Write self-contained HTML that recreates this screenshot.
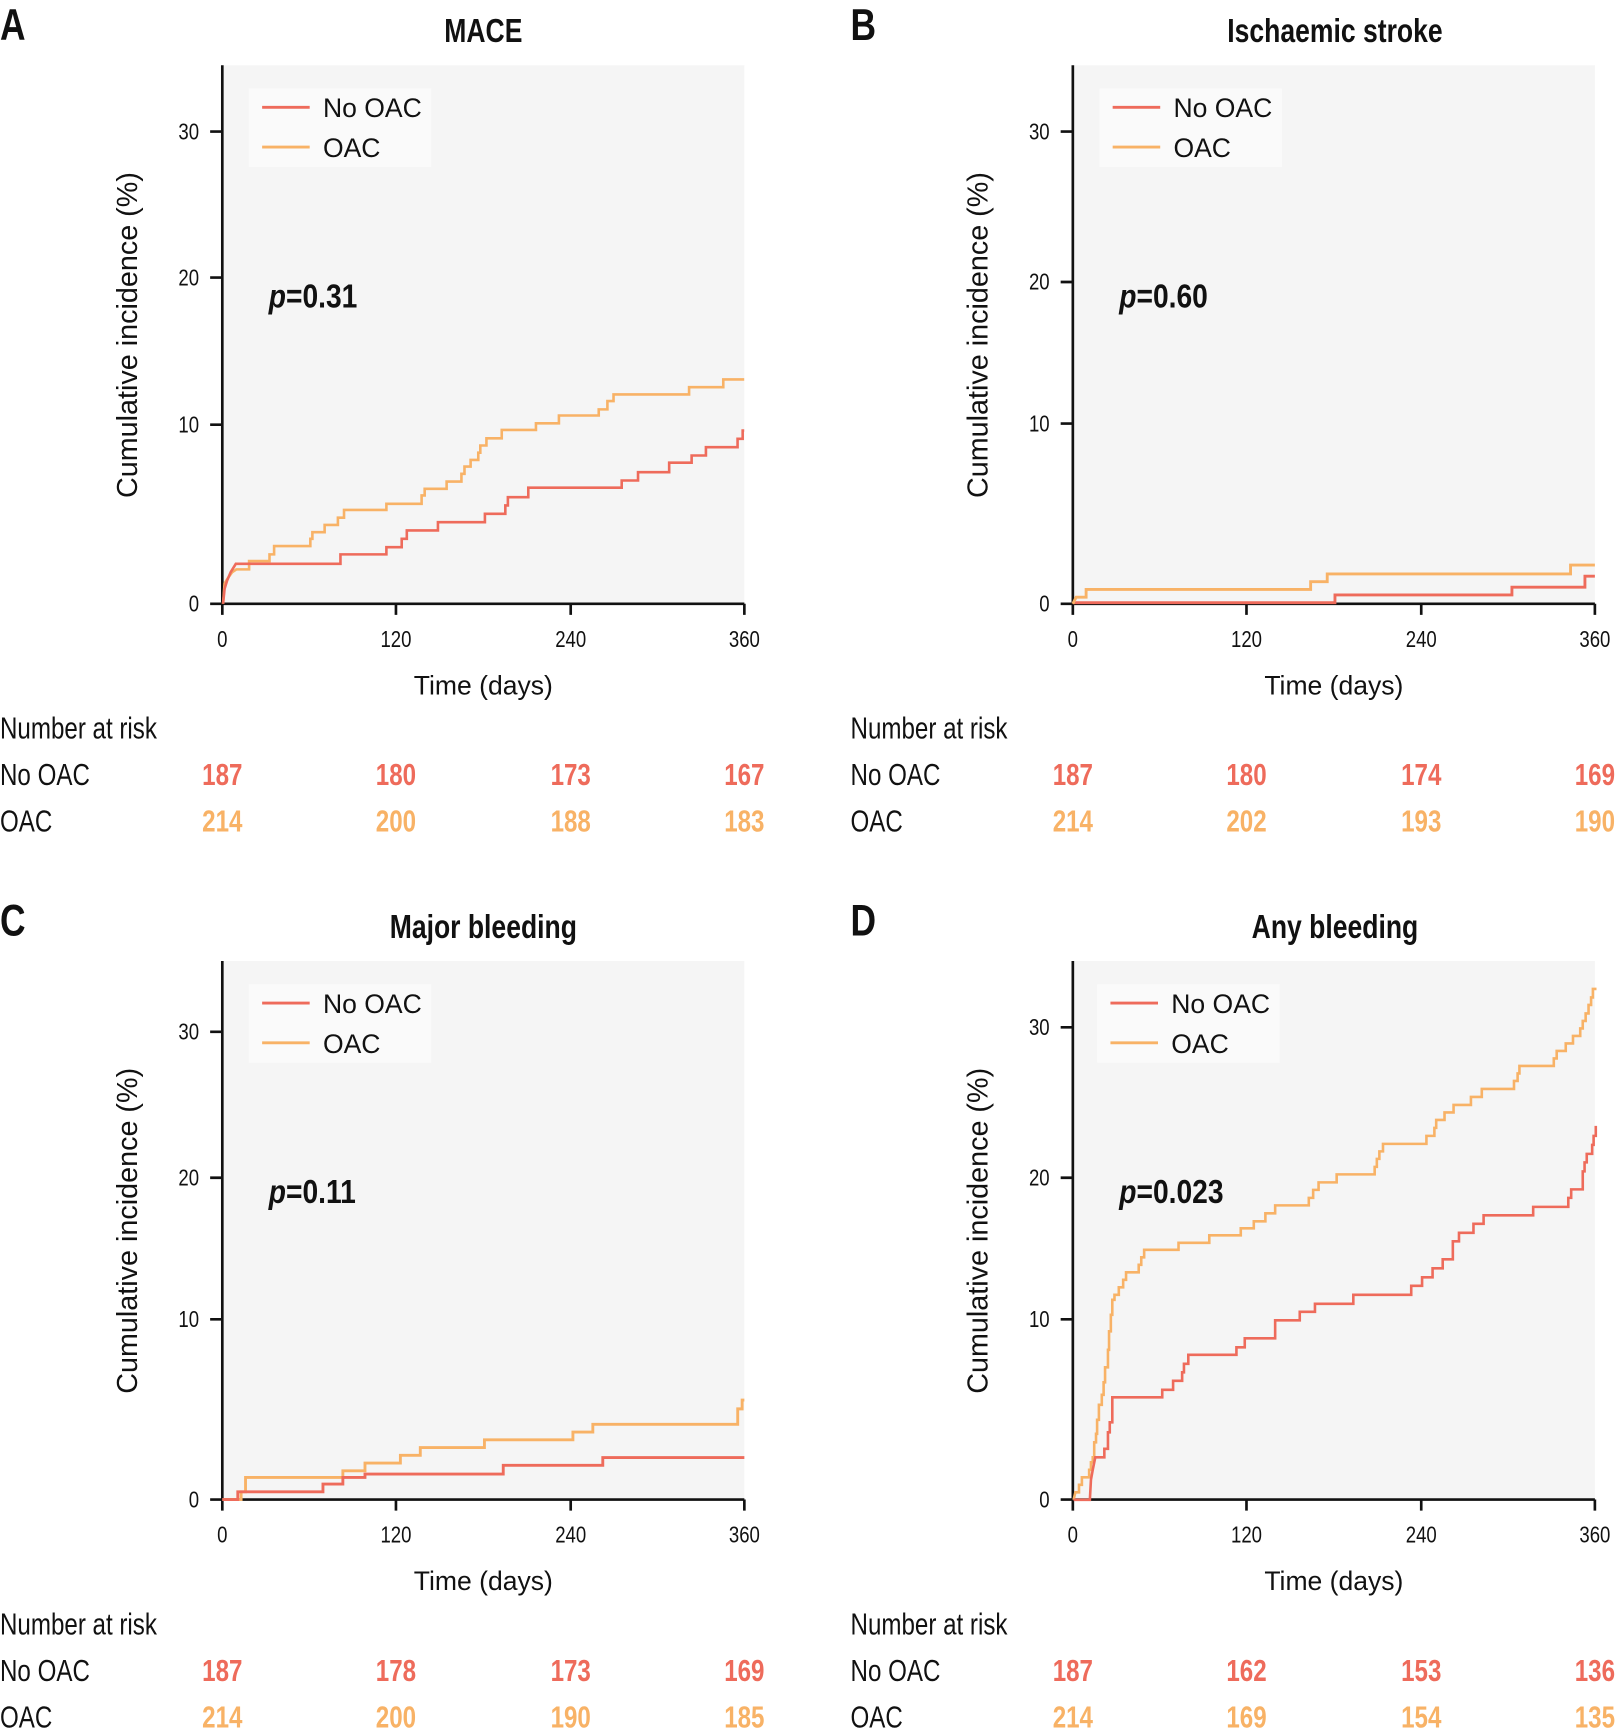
<!DOCTYPE html>
<html><head><meta charset="utf-8"><style>
html,body{margin:0;padding:0;background:#fff}
svg{display:block}
text{font-family:"Liberation Sans",sans-serif;fill:#111}
.b{font-weight:bold}
.r{fill:#ee6b5b}.o{fill:#f8b266}
.cr{fill:none;stroke:#ee6b5b;stroke-width:2.6}
.co{fill:none;stroke:#f8b266;stroke-width:2.6}
.ax{stroke:#111;stroke-width:2.4;fill:none}
</style></head><body>
<svg width="1617" height="1734" viewBox="0 0 1462 1568" preserveAspectRatio="none" xmlns="http://www.w3.org/2000/svg">

<!-- ===== Panel A ===== -->
<g>
<text class="b" font-size="40" transform="translate(0,36) scale(.8,1)">A</text>
<text class="b" font-size="30" text-anchor="middle" transform="translate(437,38) scale(.8,1)">MACE</text>
<rect x="201" y="59" width="472" height="487" fill="#f5f5f5"/>
<rect x="225" y="80" width="165" height="71" fill="#fafafa"/>
<line x1="237" y1="97" x2="280" y2="97" class="cr"/><line x1="237" y1="133" x2="280" y2="133" class="co"/>
<text x="292" y="106" font-size="24">No OAC</text><text x="292" y="142" font-size="24">OAC</text>
<text font-size="30" class="b" transform="translate(243,278) scale(.85,1)"><tspan font-style="italic">p</tspan>=0.31</text>
<path class="ax" d="M201,59V546H673M190,546H201M190,384H201M190,251H201M190,119H201M201,546V556M358,546V556M516,546V556M673,546V556"/>
<g font-size="21" text-anchor="end"><text transform="translate(180,553) scale(.8,1)">0</text><text transform="translate(180,391) scale(.8,1)">10</text><text transform="translate(180,258) scale(.8,1)">20</text><text transform="translate(180,126) scale(.8,1)">30</text></g>
<g font-size="21" text-anchor="middle"><text transform="translate(201,585) scale(.8,1)">0</text><text transform="translate(358,585) scale(.8,1)">120</text><text transform="translate(516,585) scale(.8,1)">240</text><text transform="translate(673,585) scale(.8,1)">360</text></g>
<text x="437" y="628" font-size="24" text-anchor="middle">Time (days)</text>
<text font-size="26" text-anchor="middle" transform="translate(124,303) rotate(-90)">Cumulative incidence (%)</text>
<text font-size="28" transform="translate(0,668) scale(.78,1)">Number at risk</text>
<text font-size="28" transform="translate(0,710) scale(.78,1)">No OAC</text>
<text font-size="28" transform="translate(0,752) scale(.78,1)">OAC</text>
<g font-size="28" class="b" text-anchor="middle">
<text class="r" transform="translate(201,710) scale(.78,1)">187</text><text class="r" transform="translate(358,710) scale(.78,1)">180</text><text class="r" transform="translate(516,710) scale(.78,1)">173</text><text class="r" transform="translate(673,710) scale(.78,1)">167</text>
<text class="o" transform="translate(201,752) scale(.78,1)">214</text><text class="o" transform="translate(358,752) scale(.78,1)">200</text><text class="o" transform="translate(516,752) scale(.78,1)">188</text><text class="o" transform="translate(673,752) scale(.78,1)">183</text>
</g>
<g transform="scale(0.4615,0.5023)">
<path class="co" vector-effect="non-scaling-stroke" d="M437,1087L440,1050L447,1040L455,1030L463,1025H488V1010H528V998H537V983H608V970H612V958H636V945H662V932H674V918H757V907H826V892H832V880H875V867H904V853H910V840H922V828H937V815H941V802H953V789H983V774H1050V762H1095V748H1173V737H1190V722H1202V710H1350V697H1417V683H1458"/>
<path class="cr" vector-effect="non-scaling-stroke" d="M437,1087L440,1060L445,1045L452,1030L462,1015H667V998H757V985H787V970H797V955H858V940H950V925H990V910H995V895H1035V878H1218V865H1250V850H1311V833H1355V820H1383V805H1445V790H1455V775H1458"/>
</g>
</g>

<!-- ===== Panel B ===== -->
<g>
<g transform="translate(769,0)">
<text class="b" font-size="40" transform="translate(0,36) scale(.8,1)">B</text>
<text class="b" font-size="30" text-anchor="middle" transform="translate(438,38) scale(.8,1)">Ischaemic stroke</text>
<rect x="201" y="59" width="472" height="487" fill="#f5f5f5"/>
<rect x="225" y="80" width="165" height="71" fill="#fafafa"/>
<line x1="237" y1="97" x2="280" y2="97" class="cr"/><line x1="237" y1="133" x2="280" y2="133" class="co"/>
<text x="292" y="106" font-size="24">No OAC</text><text x="292" y="142" font-size="24">OAC</text>
<text font-size="30" class="b" transform="translate(243,278) scale(.85,1)"><tspan font-style="italic">p</tspan>=0.60</text>
<path class="ax" d="M201,59V546H673M190,546H201M190,383H201M190,255H201M190,119H201M201,546V556M358,546V556M516,546V556M673,546V556"/>
<g font-size="21" text-anchor="end"><text transform="translate(180,553) scale(.8,1)">0</text><text transform="translate(180,390) scale(.8,1)">10</text><text transform="translate(180,262) scale(.8,1)">20</text><text transform="translate(180,126) scale(.8,1)">30</text></g>
<g font-size="21" text-anchor="middle"><text transform="translate(201,585) scale(.8,1)">0</text><text transform="translate(358,585) scale(.8,1)">120</text><text transform="translate(516,585) scale(.8,1)">240</text><text transform="translate(673,585) scale(.8,1)">360</text></g>
<text x="437" y="628" font-size="24" text-anchor="middle">Time (days)</text>
<text font-size="26" text-anchor="middle" transform="translate(124,303) rotate(-90)">Cumulative incidence (%)</text>
<text font-size="28" transform="translate(0,668) scale(.78,1)">Number at risk</text>
<text font-size="28" transform="translate(0,710) scale(.78,1)">No OAC</text>
<text font-size="28" transform="translate(0,752) scale(.78,1)">OAC</text>
<g font-size="28" class="b" text-anchor="middle">
<text class="r" transform="translate(201,710) scale(.78,1)">187</text><text class="r" transform="translate(358,710) scale(.78,1)">180</text><text class="r" transform="translate(516,710) scale(.78,1)">174</text><text class="r" transform="translate(673,710) scale(.78,1)">169</text>
<text class="o" transform="translate(201,752) scale(.78,1)">214</text><text class="o" transform="translate(358,752) scale(.78,1)">202</text><text class="o" transform="translate(516,752) scale(.78,1)">193</text><text class="o" transform="translate(673,752) scale(.78,1)">190</text>
</g>
</g>
<path class="cr" d="M970,545H1207V538H1367V531H1433V521H1442"/>
<path class="co" d="M970,546L973,540H982V533H1185V526H1200V519H1420V511H1442"/>
</g>

<!-- ===== Panel C ===== -->
<g>
<g transform="translate(0,810)">
<text class="b" font-size="40" transform="translate(0,36) scale(.8,1)">C</text>
<text class="b" font-size="30" text-anchor="middle" transform="translate(437,38) scale(.8,1)">Major bleeding</text>
<rect x="201" y="59" width="472" height="487" fill="#f5f5f5"/>
<rect x="225" y="80" width="165" height="71" fill="#fafafa"/>
<line x1="237" y1="97" x2="280" y2="97" class="cr"/><line x1="237" y1="133" x2="280" y2="133" class="co"/>
<text x="292" y="106" font-size="24">No OAC</text><text x="292" y="142" font-size="24">OAC</text>
<text font-size="30" class="b" transform="translate(243,278) scale(.85,1)"><tspan font-style="italic">p</tspan>=0.11</text>
<path class="ax" d="M201,59V546H673M190,546H201M190,383H201M190,255H201M190,123H201M201,546V556M358,546V556M516,546V556M673,546V556"/>
<g font-size="21" text-anchor="end"><text transform="translate(180,553) scale(.8,1)">0</text><text transform="translate(180,390) scale(.8,1)">10</text><text transform="translate(180,262) scale(.8,1)">20</text><text transform="translate(180,130) scale(.8,1)">30</text></g>
<g font-size="21" text-anchor="middle"><text transform="translate(201,585) scale(.8,1)">0</text><text transform="translate(358,585) scale(.8,1)">120</text><text transform="translate(516,585) scale(.8,1)">240</text><text transform="translate(673,585) scale(.8,1)">360</text></g>
<text x="437" y="628" font-size="24" text-anchor="middle">Time (days)</text>
<text font-size="26" text-anchor="middle" transform="translate(124,303) rotate(-90)">Cumulative incidence (%)</text>
<text font-size="28" transform="translate(0,668) scale(.78,1)">Number at risk</text>
<text font-size="28" transform="translate(0,710) scale(.78,1)">No OAC</text>
<text font-size="28" transform="translate(0,752) scale(.78,1)">OAC</text>
<g font-size="28" class="b" text-anchor="middle">
<text class="r" transform="translate(201,710) scale(.78,1)">187</text><text class="r" transform="translate(358,710) scale(.78,1)">178</text><text class="r" transform="translate(516,710) scale(.78,1)">173</text><text class="r" transform="translate(673,710) scale(.78,1)">169</text>
<text class="o" transform="translate(201,752) scale(.78,1)">214</text><text class="o" transform="translate(358,752) scale(.78,1)">200</text><text class="o" transform="translate(516,752) scale(.78,1)">190</text><text class="o" transform="translate(673,752) scale(.78,1)">185</text>
</g>
</g>
<path class="co" d="M201,1356H218V1349H222V1336H310V1330H330V1323H362V1316H380V1309H438V1302H518V1295H536V1288H667V1274H671V1266H673"/>
<path class="cr" d="M201,1356H215V1349H292V1342H310V1336H330V1333H455V1325H545V1318H673"/>
</g>

<!-- ===== Panel D ===== -->
<g>
<g transform="translate(769,810)">
<text class="b" font-size="40" transform="translate(0,36) scale(.8,1)">D</text>
<text class="b" font-size="30" text-anchor="middle" transform="translate(438,38) scale(.8,1)">Any bleeding</text>
<rect x="201" y="59" width="472" height="487" fill="#f5f5f5"/>
<rect x="223" y="80" width="165" height="71" fill="#fafafa"/>
<line x1="235" y1="97" x2="278" y2="97" class="cr"/><line x1="235" y1="133" x2="278" y2="133" class="co"/>
<text x="290" y="106" font-size="24">No OAC</text><text x="290" y="142" font-size="24">OAC</text>
<text font-size="30" class="b" transform="translate(243,278) scale(.85,1)"><tspan font-style="italic">p</tspan>=0.023</text>
<path class="ax" d="M201,59V546H673M190,546H201M190,383H201M190,255H201M190,119H201M201,546V556M358,546V556M516,546V556M673,546V556"/>
<g font-size="21" text-anchor="end"><text transform="translate(180,553) scale(.8,1)">0</text><text transform="translate(180,390) scale(.8,1)">10</text><text transform="translate(180,262) scale(.8,1)">20</text><text transform="translate(180,126) scale(.8,1)">30</text></g>
<g font-size="21" text-anchor="middle"><text transform="translate(201,585) scale(.8,1)">0</text><text transform="translate(358,585) scale(.8,1)">120</text><text transform="translate(516,585) scale(.8,1)">240</text><text transform="translate(673,585) scale(.8,1)">360</text></g>
<text x="437" y="628" font-size="24" text-anchor="middle">Time (days)</text>
<text font-size="26" text-anchor="middle" transform="translate(124,303) rotate(-90)">Cumulative incidence (%)</text>
<text font-size="28" transform="translate(0,668) scale(.78,1)">Number at risk</text>
<text font-size="28" transform="translate(0,710) scale(.78,1)">No OAC</text>
<text font-size="28" transform="translate(0,752) scale(.78,1)">OAC</text>
<g font-size="28" class="b" text-anchor="middle">
<text class="r" transform="translate(201,710) scale(.78,1)">187</text><text class="r" transform="translate(358,710) scale(.78,1)">162</text><text class="r" transform="translate(516,710) scale(.78,1)">153</text><text class="r" transform="translate(673,710) scale(.78,1)">136</text>
<text class="o" transform="translate(201,752) scale(.78,1)">214</text><text class="o" transform="translate(358,752) scale(.78,1)">169</text><text class="o" transform="translate(516,752) scale(.78,1)">154</text><text class="o" transform="translate(673,752) scale(.78,1)">135</text>
</g>
</g>
<g transform="translate(949.4,859) scale(0.3272,0.452)">
<path class="co" vector-effect="non-scaling-stroke" d="M65,1100L70,1085H80V1070H88V1055H108V1040H113V1025H118V1015H122V985H127V968H130V940H135V910H143V890H148V865H152V835H160V800H163V763H168V730H172V700H178V690H190V675H202V660H210V645H245V630H252V615H260V600H355V586H440V571H527V557H563V543H595V527H622V511H715V496H727V480H742V465H792V449H897V434H903V418H910V403H920V388H1040V372H1062V356H1067V340H1090V325H1115V310H1163V294H1193V278H1282V262H1292V247H1297V232H1392V217H1400V202H1425V187H1445V172H1465V157H1472V142H1480V127H1488V110H1495V95H1500V78H1510"/>
<path class="cr" vector-effect="non-scaling-stroke" d="M65,1100H110L113,1060L118,1040L125,1015H150V998H160V965H165V945H172V895H310V880H340V862H365V845H370V828H382V810H515V795H538V777H622V741H690V724H732V708H838V690H998V672H1028V655H1057V637H1085V619H1113V583H1130V566H1170V548H1198V531H1335V514H1432V496H1440V479H1472V443H1477V425H1483V408H1498V390H1502V372H1508V352"/>
</g>
</g>
</svg>
</body></html>
